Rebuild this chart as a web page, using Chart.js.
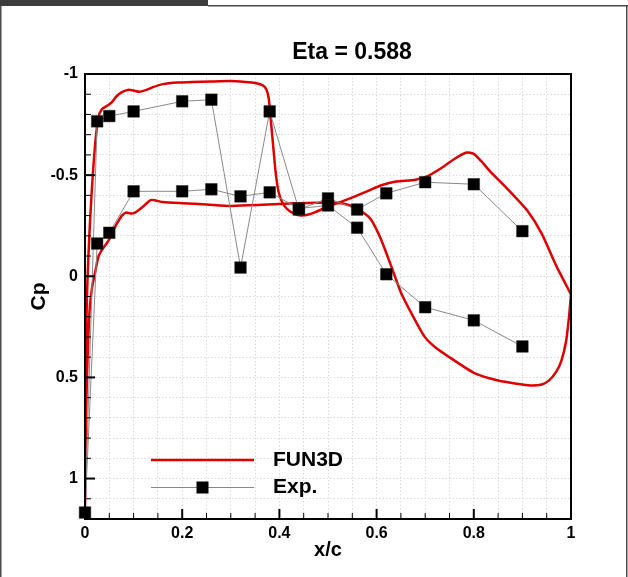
<!DOCTYPE html>
<html><head><meta charset="utf-8">
<script src="https://cdn.jsdelivr.net/npm/chart.js@4.4.0/dist/chart.umd.min.js"></script>
<style>html,body{margin:0;padding:0;background:#fff;overflow:hidden}canvas{display:block}</style>
</head><body>
<canvas id="c" width="628" height="577"></canvas>
<script>
// ---------------- data ----------------
const titleText = 'Eta = 0.588';
const xTitle = 'x/c';
const yTitle = 'Cp';
const seriesNames = ['FUN3D', 'Exp.'];
const xTickLabels = ['0', '0.2', '0.4', '0.6', '0.8', '1'];
const yTickLabels = ['-1', '-0.5', '0', '0.5', '1'];

// FUN3D, branch A (suction plateau + shock + aft peak), LE -> TE
const fun3dAX  = [0, 0.0005, 0.001, 0.002, 0.004, 0.007, 0.011, 0.016, 0.022, 0.028, 0.035, 0.045, 0.055, 0.065, 0.075, 0.09, 0.1, 0.112, 0.125, 0.14, 0.16, 0.19, 0.22, 0.26, 0.3, 0.33, 0.35, 0.365, 0.373, 0.378, 0.382, 0.387, 0.392, 0.398, 0.405, 0.415, 0.43, 0.445, 0.46, 0.475, 0.5, 0.54, 0.58, 0.61, 0.64, 0.68, 0.705, 0.73, 0.76, 0.785, 0.8, 0.815, 0.835, 0.87, 0.91, 0.94, 0.97, 1.0];
const fun3dACp = [1.17, 0.9, 0.6, 0.35, 0.1, -0.1, -0.3, -0.5, -0.68, -0.79, -0.827, -0.842, -0.86, -0.89, -0.909, -0.922, -0.918, -0.912, -0.92, -0.935, -0.95, -0.958, -0.96, -0.963, -0.965, -0.96, -0.955, -0.945, -0.925, -0.88, -0.78, -0.65, -0.52, -0.42, -0.37, -0.335, -0.31, -0.3, -0.305, -0.318, -0.345, -0.38, -0.42, -0.45, -0.468, -0.477, -0.495, -0.53, -0.58, -0.612, -0.605, -0.57, -0.515, -0.43, -0.325, -0.21, -0.05, 0.09];
// FUN3D, branch B (flat plateau + positive aft loop), LE -> TE
const fun3dBX  = [0, 0.001, 0.003, 0.006, 0.01, 0.015, 0.02, 0.028, 0.036, 0.05, 0.06, 0.067, 0.076, 0.085, 0.095, 0.103, 0.112, 0.122, 0.135, 0.145, 0.16, 0.2, 0.25, 0.3, 0.355, 0.42, 0.5, 0.53, 0.548, 0.568, 0.588, 0.609, 0.63, 0.65, 0.671, 0.698, 0.72, 0.746, 0.8, 0.85, 0.9, 0.92, 0.94, 0.955, 0.97, 0.98, 0.99, 0.996, 1.0];
const fun3dBCp = [1.17, 0.9, 0.6, 0.35, 0.15, 0.05, -0.01, -0.1, -0.134, -0.183, -0.235, -0.266, -0.3, -0.315, -0.31, -0.315, -0.33, -0.35, -0.377, -0.375, -0.367, -0.361, -0.355, -0.348, -0.352, -0.36, -0.365, -0.36, -0.348, -0.323, -0.282, -0.183, -0.05, 0.08, 0.18, 0.296, 0.35, 0.394, 0.477, 0.515, 0.535, 0.54, 0.535, 0.515, 0.47, 0.42, 0.32, 0.2, 0.09];

// Experiment
const expLEX = 0, expLECp = 1.168;
const expUpperX  = [0.025, 0.05, 0.1, 0.2, 0.26, 0.32, 0.38, 0.44, 0.5, 0.56, 0.62, 0.7, 0.8, 0.9];
const expUpperCp = [-0.766, -0.792, -0.815, -0.865, -0.873, -0.043, -0.815, -0.33, -0.385, -0.33, -0.41, -0.465, -0.455, -0.223];
const expLowerX  = [0.025, 0.05, 0.1, 0.2, 0.26, 0.32, 0.38, 0.44, 0.5, 0.56, 0.62, 0.7, 0.8, 0.9];
const expLowerCp = [-0.162, -0.215, -0.42, -0.42, -0.43, -0.395, -0.415, -0.335, -0.35, -0.24, -0.01, 0.153, 0.218, 0.347];

// ---------------- build ----------------
const FONT = "'Liberation Sans', Arial, Helvetica, sans-serif";
Chart.defaults.font.family = FONT;
Chart.defaults.color = '#000';

const fun3dData = [];
for (let i = fun3dAX.length - 1; i >= 0; i--) fun3dData.push({x: fun3dAX[i], y: fun3dACp[i]});
for (let i = 1; i < fun3dBX.length; i++) fun3dData.push({x: fun3dBX[i], y: fun3dBCp[i]});

const expData = [];
for (let i = expUpperX.length - 1; i >= 0; i--) expData.push({x: expUpperX[i], y: expUpperCp[i]});
expData.push({x: expLEX, y: expLECp});
for (let i = 0; i < expLowerX.length; i++) expData.push({x: expLowerX[i], y: expLowerCp[i]});

function labelFor(v, list) {
  const s = list.find(l => Math.abs(parseFloat(l) - v) < 1e-6);
  return s === undefined ? '' : s;
}

const RED = 'rgb(222,0,0)';
const GRID = '#dadada';

const framePlugin = {
  id: 'framePlugin',
  beforeDraw(chart) {
    const ctx = chart.ctx;
    ctx.save();
    ctx.fillStyle = '#fff';
    ctx.fillRect(0, 0, chart.width, chart.height);
    ctx.restore();
  },
  afterDraw(chart) {
    const {ctx, chartArea: a, scales: {x, y}} = chart;
    ctx.save();
    ctx.strokeStyle = '#000';
    // inward ticks
    x.ticks.forEach(t => {
      const major = t.label !== '';
      const px = x.getPixelForValue(t.value);
      ctx.lineWidth = major ? 2 : 1;
      const len = major ? 10 : 6;
      ctx.beginPath(); ctx.moveTo(px, a.bottom); ctx.lineTo(px, a.bottom - len); ctx.stroke();
    });
    y.ticks.forEach(t => {
      const major = t.label !== '';
      const py = y.getPixelForValue(t.value);
      ctx.lineWidth = major ? 2 : 1;
      const len = major ? 10 : 6;
      ctx.beginPath(); ctx.moveTo(a.left, py); ctx.lineTo(a.left + len, py); ctx.stroke();
    });
    // plot frame
    ctx.lineWidth = 2;
    ctx.strokeRect(a.left, a.top, a.right - a.left, a.bottom - a.top);

    // title
    ctx.fillStyle = '#000';
    ctx.font = 'bold 23px ' + FONT;
    ctx.textAlign = 'center';
    ctx.textBaseline = 'middle';
    ctx.fillText(titleText, 352, 53);

    // legend
    const ds = chart.data.datasets;
    ctx.font = 'bold 21px ' + FONT;
    ctx.textAlign = 'left';
    // FUN3D
    ctx.strokeStyle = ds[1].borderColor;
    ctx.lineWidth = ds[1].borderWidth;
    ctx.beginPath(); ctx.moveTo(151, 460); ctx.lineTo(254, 460); ctx.stroke();
    ctx.fillText(ds[1].label, 273, 460);
    // Exp
    ctx.strokeStyle = ds[0].borderColor;
    ctx.lineWidth = ds[0].borderWidth;
    ctx.beginPath(); ctx.moveTo(151, 487.5); ctx.lineTo(254, 487.5); ctx.stroke();
    ctx.fillStyle = ds[0].pointBackgroundColor;
    ctx.fillRect(196.5, 481.5, 12, 12);
    ctx.fillStyle = '#000';
    ctx.fillText(ds[0].label, 273, 487);

    // outer figure frame
    ctx.fillStyle = '#3c3c3c';
    ctx.fillRect(0, 0, 208, 6);
    ctx.fillStyle = '#4a4a4a';
    ctx.fillRect(208, 5, chart.width - 208, 1.5);
    ctx.fillRect(0, 6, 1.5, chart.height - 6);
    ctx.fillRect(chart.width - 2, 6, 1.5, chart.height - 6);
    ctx.restore();
  }
};

new Chart(document.getElementById('c'), {
  type: 'scatter',
  data: {
    datasets: [
      {
        label: seriesNames[1],
        data: expData,
        showLine: true,
        borderColor: '#8a8a8a',
        borderWidth: 1,
        pointStyle: 'rect',
        pointRadius: 8.2,
        pointBackgroundColor: '#000',
        pointBorderColor: '#222',
        pointBorderWidth: 0.5,
        clip: false,
        tension: 0
      },
      {
        label: seriesNames[0],
        data: fun3dData,
        showLine: true,
        borderColor: RED,
        borderWidth: 2.5,
        pointRadius: 0,
        tension: 0.2
      }
    ]
  },
  options: {
    responsive: false,
    animation: false,
    devicePixelRatio: 1,
    layout: {padding: {top: 74, left: 0, right: 57, bottom: 0}},
    plugins: {legend: {display: false}, tooltip: {enabled: false}, title: {display: false}},
    scales: {
      x: {
        type: 'linear', min: 0, max: 1, position: 'bottom',
        ticks: {stepSize: 0.05, autoSkip: false, maxRotation: 0, padding: 5, color: '#000',
                font: {size: 16, weight: 'bold'}, callback: v => labelFor(v, xTickLabels)},
        grid: {color: GRID, lineWidth: 1, drawTicks: false},
        border: {display: false, dash: [1.5, 2]},
        title: {display: true, text: xTitle, color: '#000', font: {size: 20, weight: 'bold'}, padding: {top: 0, bottom: 15}},
        afterFit: s => { s.height = 58; }
      },
      y: {
        type: 'linear', min: -1, max: 1.2, reverse: true, position: 'left',
        ticks: {stepSize: 0.1, autoSkip: false, padding: 7, color: '#000',
                font: {size: 16, weight: 'bold'}, callback: v => labelFor(v, yTickLabels)},
        grid: {color: GRID, lineWidth: 1, drawTicks: false},
        border: {display: false, dash: [1.5, 2]},
        title: {display: true, text: yTitle, color: '#000', font: {size: 21, weight: 'bold'}, padding: {top: 26.4, bottom: 0}},
        afterFit: s => { s.width = 85; }
      }
    }
  },
  plugins: [framePlugin]
});
</script>
</body></html>
